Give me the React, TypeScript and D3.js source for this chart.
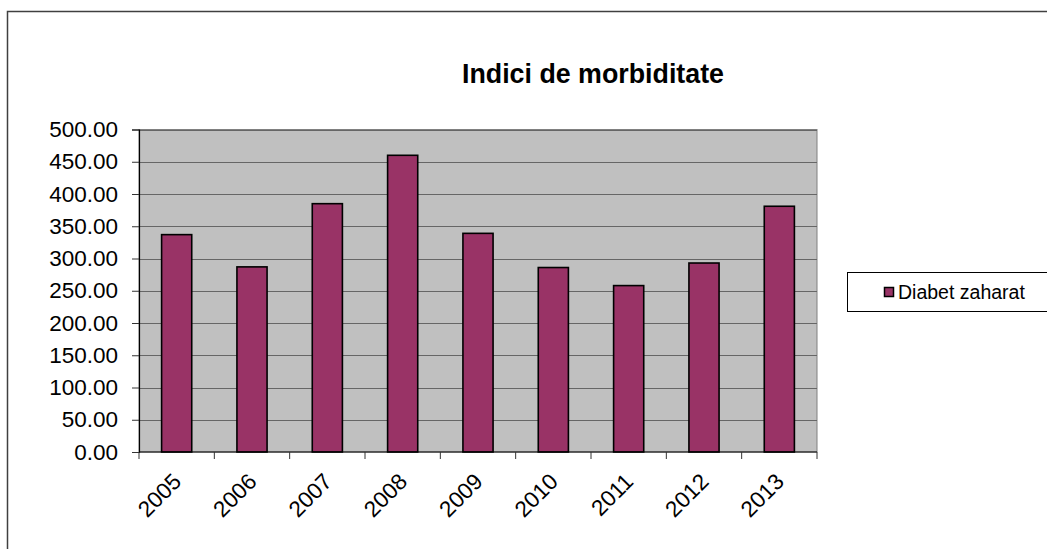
import React, { useEffect, useRef } from 'react'
import * as d3 from 'd3'

const years = ['2005', '2006', '2007', '2008', '2009', '2010', '2011', '2012', '2013']
const diabetValues = [337, 287, 385, 460, 339, 286, 258, 293, 381]
const yTicks = [0, 50, 100, 150, 200, 250, 300, 350, 400, 450, 500]
const seriesName = 'Diabet zaharat'
const chartTitle = 'Indici de morbiditate'

const W = 1047
const H = 549
const FONT = '"Liberation Sans", Arial, sans-serif'

const App = () => {
  const ref = useRef<SVGGElement>(null)

  useEffect(() => {
    const g = d3.select(ref.current)
    g.selectAll('*').remove()

    const plot = { left: 139, top: 129.5, right: 817, bottom: 452 }

    // outer chart frame
    g.append('rect')
      .attr('x', 7.5).attr('y', 11.5)
      .attr('width', 1100).attr('height', 600)
      .attr('fill', 'white').attr('stroke', '#404040').attr('stroke-width', 1.5)

    const x = d3.scaleBand().domain(years).range([plot.left, plot.right]).padding(0)
    const y = d3.scaleLinear().domain([0, 500]).range([plot.bottom, plot.top])

    // plot background
    g.append('rect')
      .attr('x', plot.left).attr('y', plot.top)
      .attr('width', plot.right - plot.left).attr('height', plot.bottom - plot.top)
      .attr('fill', '#c0c0c0').attr('stroke', '#808080').attr('stroke-width', 1)

    // gridlines
    g.append('g').selectAll('line')
      .data(yTicks.filter(t => t > 0))
      .enter().append('line')
      .attr('x1', plot.left).attr('x2', plot.right)
      .attr('y1', d => Math.round(y(d)) + 0.5).attr('y2', d => Math.round(y(d)) + 0.5)
      .attr('stroke', '#666').attr('stroke-width', 1)

    // y axis
    const yAxis = d3.axisLeft(y).tickValues(yTicks).tickSize(7).tickPadding(14)
      .tickFormat(d => d3.format('.2f')(d as number))
    const yAxisG = g.append('g').attr('transform', `translate(${plot.left},0)`).call(yAxis)
    yAxisG.select('.domain').attr('stroke', '#000').attr('stroke-width', 1.2)
    yAxisG.selectAll('line').attr('stroke', '#333')
    yAxisG.selectAll('text')
      .attr('font-family', FONT).attr('font-size', '22.5px').attr('fill', '#000')

    // bars
    const bw = x.bandwidth() * 0.4
    g.append('g').selectAll('rect')
      .data(diabetValues)
      .enter().append('rect')
      .attr('x', (d, i) => (x(years[i]) as number) + x.bandwidth() / 2 - bw / 2)
      .attr('y', d => y(d))
      .attr('width', bw)
      .attr('height', d => plot.bottom - y(d))
      .attr('fill', '#993366')
      .attr('stroke', '#000').attr('stroke-width', 1.6)

    // x axis line with ticks at category boundaries
    const xg = g.append('g')
    xg.append('line')
      .attr('x1', plot.left).attr('x2', plot.right)
      .attr('y1', plot.bottom).attr('y2', plot.bottom)
      .attr('stroke', '#000').attr('stroke-width', 1.2)
    const boundaries = years.map(yr => x(yr) as number).concat([plot.right])
    xg.selectAll('line.tick')
      .data(boundaries)
      .enter().append('line')
      .attr('class', 'tick')
      .attr('x1', d => d).attr('x2', d => d)
      .attr('y1', plot.bottom).attr('y2', plot.bottom + 7)
      .attr('stroke', '#333')
    xg.selectAll('text')
      .data(years)
      .enter().append('text')
      .attr('transform', d => `translate(${(x(d) as number) + x.bandwidth() / 2 + 6},${plot.bottom + 31}) rotate(-45)`)
      .attr('text-anchor', 'end')
      .attr('font-family', FONT).attr('font-size', '22.5px').attr('fill', '#000')
      .text(d => d)

    // title
    g.append('text')
      .attr('x', 593).attr('y', 83)
      .attr('text-anchor', 'middle')
      .attr('font-family', FONT).attr('font-size', '26.8px').attr('font-weight', 'bold')
      .text(chartTitle)

    // legend
    const lg = g.append('g')
    lg.append('rect')
      .attr('x', 847.5).attr('y', 272.5).attr('width', 210).attr('height', 39)
      .attr('fill', 'white').attr('stroke', '#000').attr('stroke-width', 1)
    lg.append('rect')
      .attr('x', 884.5).attr('y', 287.5).attr('width', 9).attr('height', 9)
      .attr('fill', '#993366').attr('stroke', '#000').attr('stroke-width', 1.5)
    lg.append('text')
      .attr('x', 898).attr('y', 299)
      .attr('font-family', FONT).attr('font-size', '19.5px')
      .text(seriesName)
  }, [])

  return (
    <svg width={W} height={H} style={{ position: 'absolute', left: 0, top: 0 }}>
      <g ref={ref} />
    </svg>
  )
}

export default App
